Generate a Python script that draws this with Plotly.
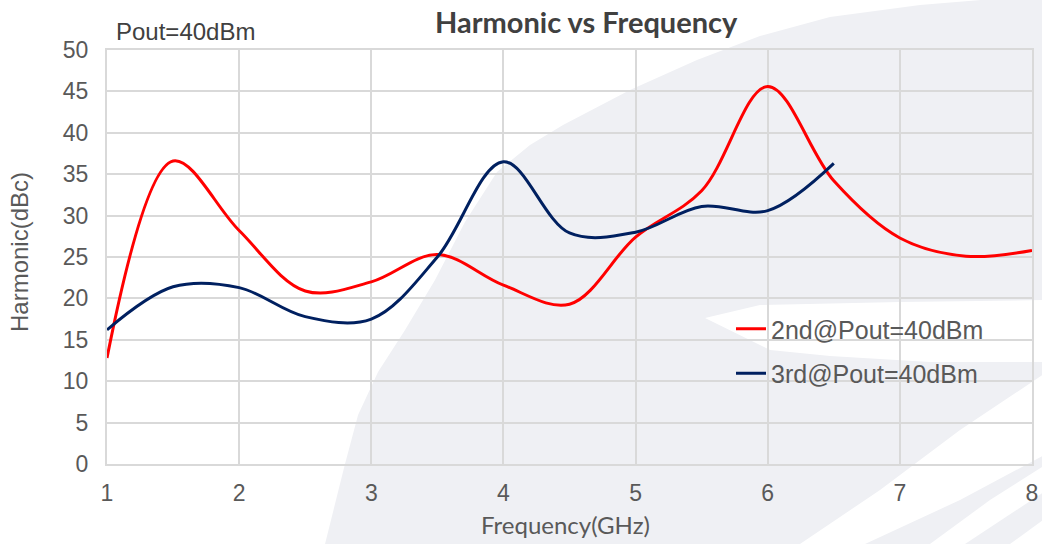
import plotly.graph_objects as go

# data
freq_2nd = [1, 1.5, 2, 2.5, 3, 3.5, 4, 4.5, 5, 5.5, 6, 6.5, 7, 7.5, 8]
harm_2nd = [12.8, 36.6, 28.2, 20.9, 22.0, 25.3, 21.6, 19.3, 27.4, 33.0, 45.6, 34.2, 27.3, 25.1, 25.8]

freq_3rd = [1, 1.5, 2, 2.5, 3, 3.5, 4, 4.5, 5, 5.5, 6, 6.5]
harm_3rd = [16.2, 21.4, 21.3, 17.8, 17.5, 25.0, 36.5, 27.9, 28.0, 31.1, 30.6, 36.3]

x_ticks = [1, 2, 3, 4, 5, 6, 7, 8]
y_ticks = [0, 5, 10, 15, 20, 25, 30, 35, 40, 45, 50]

W, H = 1042, 544
L, R, T, B = 107, 1032, 50, 464
TXT = "#595959"
GRID = "#d9d9d9"


def px(x, y):
    # pixel position on the page -> paper coordinates
    return (x - L) / (R - L), (B - y) / (B - T)


def path(points):
    pts = [px(x, y) for x, y in points]
    return "M " + " L ".join(f"{a:.4f},{b:.4f}" for a, b in pts) + " Z"


fig = go.Figure()

fig.add_trace(go.Scatter(
    x=freq_2nd, y=harm_2nd, mode="lines", name="2nd@Pout=40dBm",
    legendgroup="a", line=dict(color="#ff0000", width=3, shape="spline", smoothing=1.0)
))
fig.add_trace(go.Scatter(
    x=freq_3rd, y=harm_3rd, mode="lines", name="3rd@Pout=40dBm",
    legendgroup="b", line=dict(color="#002060", width=3, shape="spline", smoothing=1.0)
))

# --- faint watermark in the background ---
arc = [(325, 544), (345, 464), (358, 415), (378, 372), (405, 330), (435, 280),
       (465, 222), (497, 172), (530, 145), (563, 125), (630, 90), (697, 60),
       (760, 36), (830, 17), (920, 5), (1042, -5), (1050, 544)]
white_bits = [
    [(705, 318), (760, 305), (900, 302), (1050, 300), (1050, 362), (930, 362), (830, 356), (770, 350)],
    [(800, 544), (880, 490), (960, 430), (1050, 370), (1050, 452), (960, 500), (865, 544)],
    [(930, 544), (990, 500), (1050, 462), (1050, 488), (965, 544)],
    [(1010, 544), (1050, 515), (1050, 544)],
]
shapes = [dict(type="path", xref="paper", yref="paper", path=path(arc),
               fillcolor="#eff0f4", line=dict(width=0), layer="below")]
for w in white_bits:
    shapes.append(dict(type="path", xref="paper", yref="paper", path=path(w),
                       fillcolor="white", line=dict(width=0), layer="below"))


def label(text, x, y, size, color=TXT, family=None, angle=0, xanchor="center"):
    f = dict(size=size, color=color)
    if family:
        f["family"] = family
    a, b = px(x, y)
    return dict(text=text, xref="paper", yref="paper", x=a, y=b, showarrow=False,
                xanchor=xanchor, yanchor="middle", textangle=angle, font=f)


fig.update_layout(
    width=W, height=H,
    margin=dict(l=L, r=W - R, t=T, b=H - B),
    paper_bgcolor="white", plot_bgcolor="rgba(0,0,0,0)",
    font=dict(family="Liberation Sans, Arial, sans-serif", color=TXT, size=23),
    shapes=shapes,
    showlegend=True,
    legend=dict(x=px(731, 0)[0], y=px(0, 306)[1], xanchor="left", yanchor="top",
                bgcolor="rgba(0,0,0,0)", font=dict(size=25, color=TXT),
                traceorder="grouped", tracegroupgap=9),
    annotations=[
        label("<b>Harmonic vs Frequency</b>", 586, 22, 29, "#404040", "Lato, sans-serif"),
        label("Pout=40dBm", 114, 31, 24, "#404040", xanchor="left"),
        label("Frequency(GHz)", 565, 524, 24, TXT, "Lato, sans-serif"),
        label("Harmonic(dBc)", 20, 252, 24, TXT, angle=-90),
    ],
)

fig.update_xaxes(
    range=[1, 8], tickvals=x_ticks, showgrid=True, gridcolor=GRID, gridwidth=2,
    showline=True, linecolor=GRID, linewidth=2, mirror=True, zeroline=False,
    ticks="outside", ticklen=7, tickcolor="rgba(0,0,0,0)", automargin=False,
)
fig.update_yaxes(
    range=[0, 50], tickvals=y_ticks, showgrid=True, gridcolor=GRID, gridwidth=2,
    showline=True, linecolor=GRID, linewidth=2, mirror=True, zeroline=False,
    ticks="outside", ticklen=12, tickcolor="rgba(0,0,0,0)", automargin=False,
)

# drop the default page margin so the figure sits at the window's corner
fig.write_html("out.html", config={"displayModeBar": False},
               post_script="document.body.style.margin='0';document.body.style.overflow='hidden';")
